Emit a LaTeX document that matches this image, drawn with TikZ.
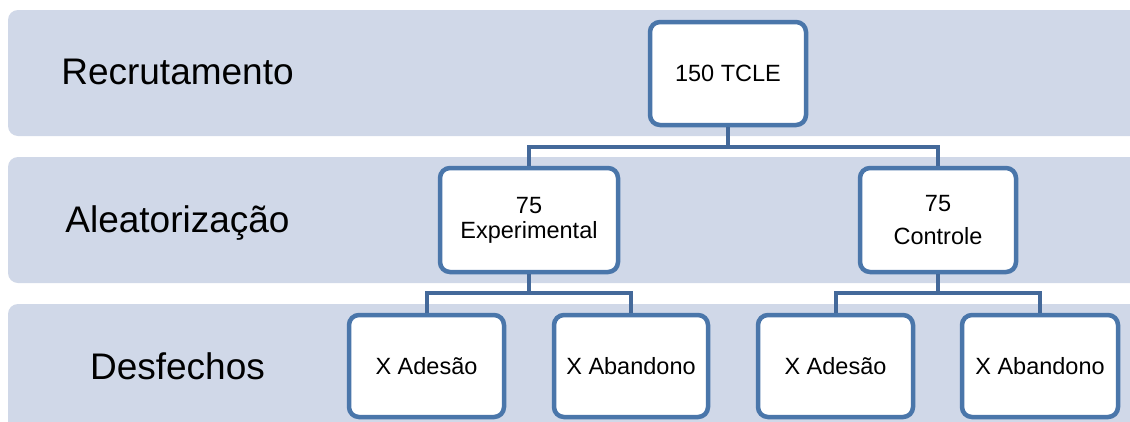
\documentclass[tikz,border=0pt]{standalone}
\usepackage{fontspec}
\setmainfont{Liberation Sans}
\definecolor{bandfill}{HTML}{D0D8E8}
\definecolor{boxline}{HTML}{4A76AA}
\definecolor{connline}{HTML}{44699A}
\tikzset{
  band/.style={fill=bandfill, draw=none, rounded corners=10pt},
  stage/.style={font=\fontsize{37}{40}\selectfont, anchor=base, inner sep=0pt},
  box/.style={draw=boxline, line width=4.5pt, fill=white, rounded corners=10pt,
    align=center, inner sep=0pt, font=\fontsize{23.5}{26}\selectfont},
  conn/.style={draw=connline, line width=4pt}
}
\begin{document}
\begin{tikzpicture}[x=1pt,y=-1pt]
\clip (0,0) rectangle (1130,421);
\fill[white] (0,0) rectangle (1130,421);
% bands
\path[band] (8,10) rectangle (1145,136);
\path[band] (8,157) rectangle (1145,283);
\path[band] (8,304) rectangle (1145,440);
% stage labels
\node[stage] (l1) at (177.5,84) {Recrutamento};
\node[stage] (l2) at (177.5,232) {Aleatorização};
\node[stage] (l3) at (177.5,379) {Desfechos};
% coordinates for buses
\coordinate (b1) at (728,147);
\coordinate (b2) at (529,293);
\coordinate (b3) at (938,293);
% connectors (drawn first, boxes cover ends)
% boxes
\node[box, minimum width=156pt, minimum height=103pt] (tcle) at (728,73.5) {150 TCLE};
\node[box, minimum width=178pt, minimum height=104pt, font=\fontsize{23.5}{25}\selectfont] (exp) at (529,220) {75\\Experimental};
\node[box, minimum width=156pt, minimum height=104pt, font=\fontsize{23.5}{33}\selectfont] (ctrl) at (938,220) {75\\Controle};
\node[box, minimum width=155pt, minimum height=102pt] (a1) at (426.5,366) {X Adesão};
\node[box, minimum width=154pt, minimum height=102pt] (ab1) at (631,366) {X Abandono};
\node[box, minimum width=155pt, minimum height=102pt] (a2) at (835.5,366) {X Adesão};
\node[box, minimum width=156pt, minimum height=102pt] (ab2) at (1040,366) {X Abandono};
% connectors
\draw[conn] (tcle.south) -- (b1);
\draw[conn] (exp.north) |- (b1) -| (ctrl.north);
\draw[conn] (exp.south) -- (b2);
\draw[conn] (a1.north) |- (b2) -| (ab1.north);
\draw[conn] (ctrl.south) -- (b3);
\draw[conn] (a2.north) |- (b3) -| (ab2.north);
\end{tikzpicture}
\end{document}
